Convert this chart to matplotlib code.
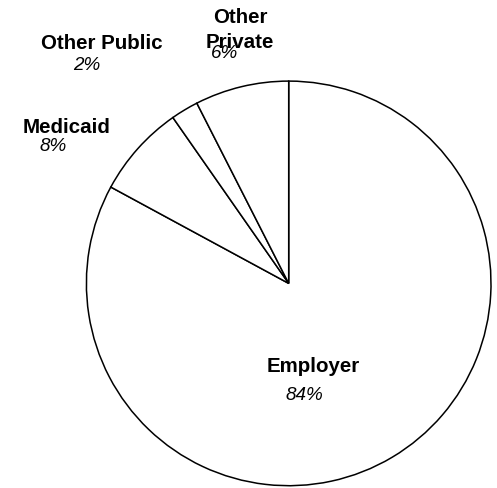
import matplotlib
matplotlib.use("Agg")
from matplotlib import pyplot as plt

categories = ["Employer", "Medicaid", "Other Public", "Other Private"]
shares = [82.9, 7.4, 2.2, 7.5]
pct_labels = ["84%", "8%", "2%", "6%"]

plt.rcParams["font.family"] = ["Liberation Sans", "DejaVu Sans"]

W, H = 497, 489
fig = plt.figure(figsize=(W / 100, H / 100), dpi=100)
ax = fig.add_axes([0, 0, 1, 1])

cx, cy, r = 288.7, H - 284.4, 202.3
ax.pie(shares, startangle=90, counterclock=False, center=(cx, cy), radius=r,
       colors=["white"] * len(shares),
       wedgeprops=dict(edgecolor="black", linewidth=1.1))

ax.set_xlim(0, W)
ax.set_ylim(0, H)
ax.set_aspect("equal")
ax.axis("off")

# label positions in pixel coords (x, y from top)
name_pos = {"Employer": (313, 367), "Medicaid": (67, 128),
            "Other Public": (102, 44), "Other Private": (240, 30)}
pct_pos = {"Employer": (304, 396), "Medicaid": (53, 147),
           "Other Public": (87, 66), "Other Private": (225, 54)}
names = {"Other Private": "Other\nPrivate"}

for cat, pl in zip(categories, pct_labels):
    x, y = name_pos[cat]
    ax.text(x, H - y, names.get(cat, cat), ha="center", va="center",
            fontsize=14.8, fontweight="bold", linespacing=1.4)
    x, y = pct_pos[cat]
    ax.text(x, H - y, pl, ha="center", va="center",
            fontsize=13.6, fontstyle="italic")

fig.savefig("out.png", dpi=100)
